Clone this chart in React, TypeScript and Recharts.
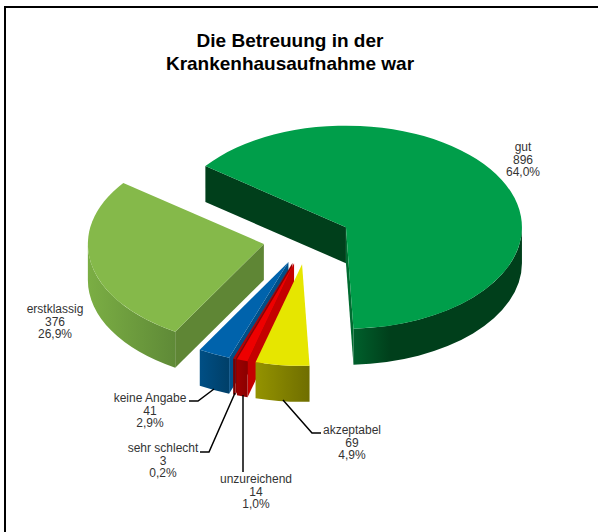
import React from 'react';
import { Pie, PieChart } from 'recharts';

// listed back to front: the pie is walked counter-clockwise so gut is painted last
const categories = ['erstklassig', 'keine Angabe', 'sehr schlecht', 'unzureichend', 'akzeptabel', 'gut'];
const counts = [376, 41, 3, 14, 69, 896];
const percentLabels = ['26,9%', '2,9%', '0,2%', '1,0%', '4,9%', '64,0%'];

const topColors = ['#85B94A', '#0063AC', '#B80000', '#EE0000', '#E6E600', '#009E4A'];
const startWallColors = ['#5F8635', '#004F88', '#8E0000', '#C40000', '#8F8E00', '#003F1B'];
const endWallColors = ['#5F8635', '#004F88', '#8E0000', '#C40000', '#8F8E00', '#006B30'];
const rimLeftColors = ['#7BAE44', '#004F85', '#7A0000', '#9E0000', '#949300', '#00602C'];
const rimRightColors = ['#5F8A37', '#003F68', '#7A0000', '#8A0000', '#6F6E00', '#003F1B'];
const rimFadeStops = ['100%', '100%', '100%', '100%', '100%', '22%'];

// where each label sits, and its leader line
const labelCenters = [[55, 309], [150, 398], [163, 448], [256, 479], [352, 430], [523, 147]];
const leaderLines = [
  null,
  '214,389 198,401 189,401',
  '235,393 209,452 200,452',
  '243,395 243,472',
  '283,400 312,433 321,433',
  null,
];

const TILT = 0.577;
const DEPTH = 36;
const EXPLODE = 0.25;

const chartData = categories.map((name, i) => ({ name, value: counts[i], percent: percentLabels[i] }));

const rad = (deg: number) => (deg * Math.PI) / 180;

function Slice3D(props: any) {
  const { cx, cy, outerRadius, startAngle, endAngle, index } = props;
  // clockwise edge first, whichever way the pie was walked
  const from = Math.max(startAngle, endAngle);
  const to = Math.min(startAngle, endAngle);
  const rx = outerRadius;
  const ry = outerRadius * TILT;
  const mid = (from + to) / 2;
  const ax = cx + EXPLODE * rx * Math.cos(rad(mid));
  const ay = cy - EXPLODE * ry * Math.sin(rad(mid));
  const pt = (a: number) => [ax + rx * Math.cos(rad(a)), ay - ry * Math.sin(rad(a))];

  const [sx, sy] = pt(from);
  const [ex, ey] = pt(to);
  const large = from - to > 180 ? 1 : 0;
  const top = `M${ax},${ay} L${sx},${sy} A${rx},${ry} 0 ${large} 1 ${ex},${ey} Z`;

  const wall = (x: number, y: number) =>
    `M${ax},${ay} L${x},${y} L${x},${y + DEPTH} L${ax},${ay + DEPTH} Z`;

  // walls only show when they face the viewer
  const showStart = Math.cos(rad(from)) < 0;
  const showEnd = Math.cos(rad(to)) > 0;

  const hi = Math.min(from, 0);
  const lo = Math.max(to, -180);
  let rim = null;
  if (hi > lo) {
    const [x0, y0] = pt(hi);
    const [x1, y1] = pt(lo);
    rim = `M${x0},${y0} A${rx},${ry} 0 0 1 ${x1},${y1} L${x1},${y1 + DEPTH} A${rx},${ry} 0 0 0 ${x0},${y0 + DEPTH} Z`;
  }
  const gradId = `rim-${index}`;

  return (
    <g>
      <defs>
        <linearGradient id={gradId} x1="0" y1="0" x2="1" y2="0">
          <stop offset="0%" stopColor={rimLeftColors[index]} />
          <stop offset={rimFadeStops[index]} stopColor={rimRightColors[index]} />
        </linearGradient>
      </defs>
      {showStart && <path d={wall(sx, sy)} fill={startWallColors[index]} />}
      {showEnd && <path d={wall(ex, ey)} fill={endWallColors[index]} />}
      {rim && <path d={rim} fill={`url(#${gradId})`} />}
      <path d={top} fill={topColors[index]} />
    </g>
  );
}

function SliceLabel(props: any) {
  const { index } = props;
  const [x, y] = labelCenters[index];
  const lines = [categories[index], String(counts[index]), percentLabels[index]];
  return (
    <g>
      {leaderLines[index] && <polyline points={leaderLines[index] as string} fill="none" stroke="#000" strokeWidth={1.5} />}
      <text x={x} y={y + 4} textAnchor="middle" fontFamily="'Liberation Sans', Arial, sans-serif" fontSize={12} fill="#333">
        {lines.map((l, i) => (
          <tspan key={i} x={x} dy={i === 0 ? 0 : 12.7}>{l}</tspan>
        ))}
      </text>
    </g>
  );
}

export default function App() {
  return (
    <div style={{ position: 'absolute', left: 0, top: 0, width: 598, height: 532, background: '#fff', overflow: 'hidden' }}>
      <div style={{ position: 'absolute', left: 4, top: 6, width: 640, height: 600, borderLeft: '2px solid #000', borderTop: '2px solid #000' }} />
      <div
        style={{
          position: 'absolute',
          left: 0,
          top: 29,
          width: 580,
          textAlign: 'center',
          fontFamily: "'Liberation Sans', Arial, sans-serif",
          fontWeight: 'bold',
          fontSize: 19,
          lineHeight: '23px',
          color: '#000',
        }}
      >
        Die Betreuung in der
        <br />
        Krankenhausaufnahme war
      </div>
      <div style={{ position: 'absolute', left: 0, top: 0 }}>
        <PieChart width={598} height={532} margin={{ top: 0, right: 0, bottom: 0, left: 0 }}>
          <Pie
            data={chartData}
            dataKey="value"
            nameKey="name"
            cx={307}
            cy={239}
            innerRadius={0}
            outerRadius={176}
            startAngle={-217}
            endAngle={143}
            stroke="none"
            isAnimationActive={false}
            shape={Slice3D}
            label={SliceLabel}
            labelLine={false}
          />
        </PieChart>
      </div>
    </div>
  );
}
